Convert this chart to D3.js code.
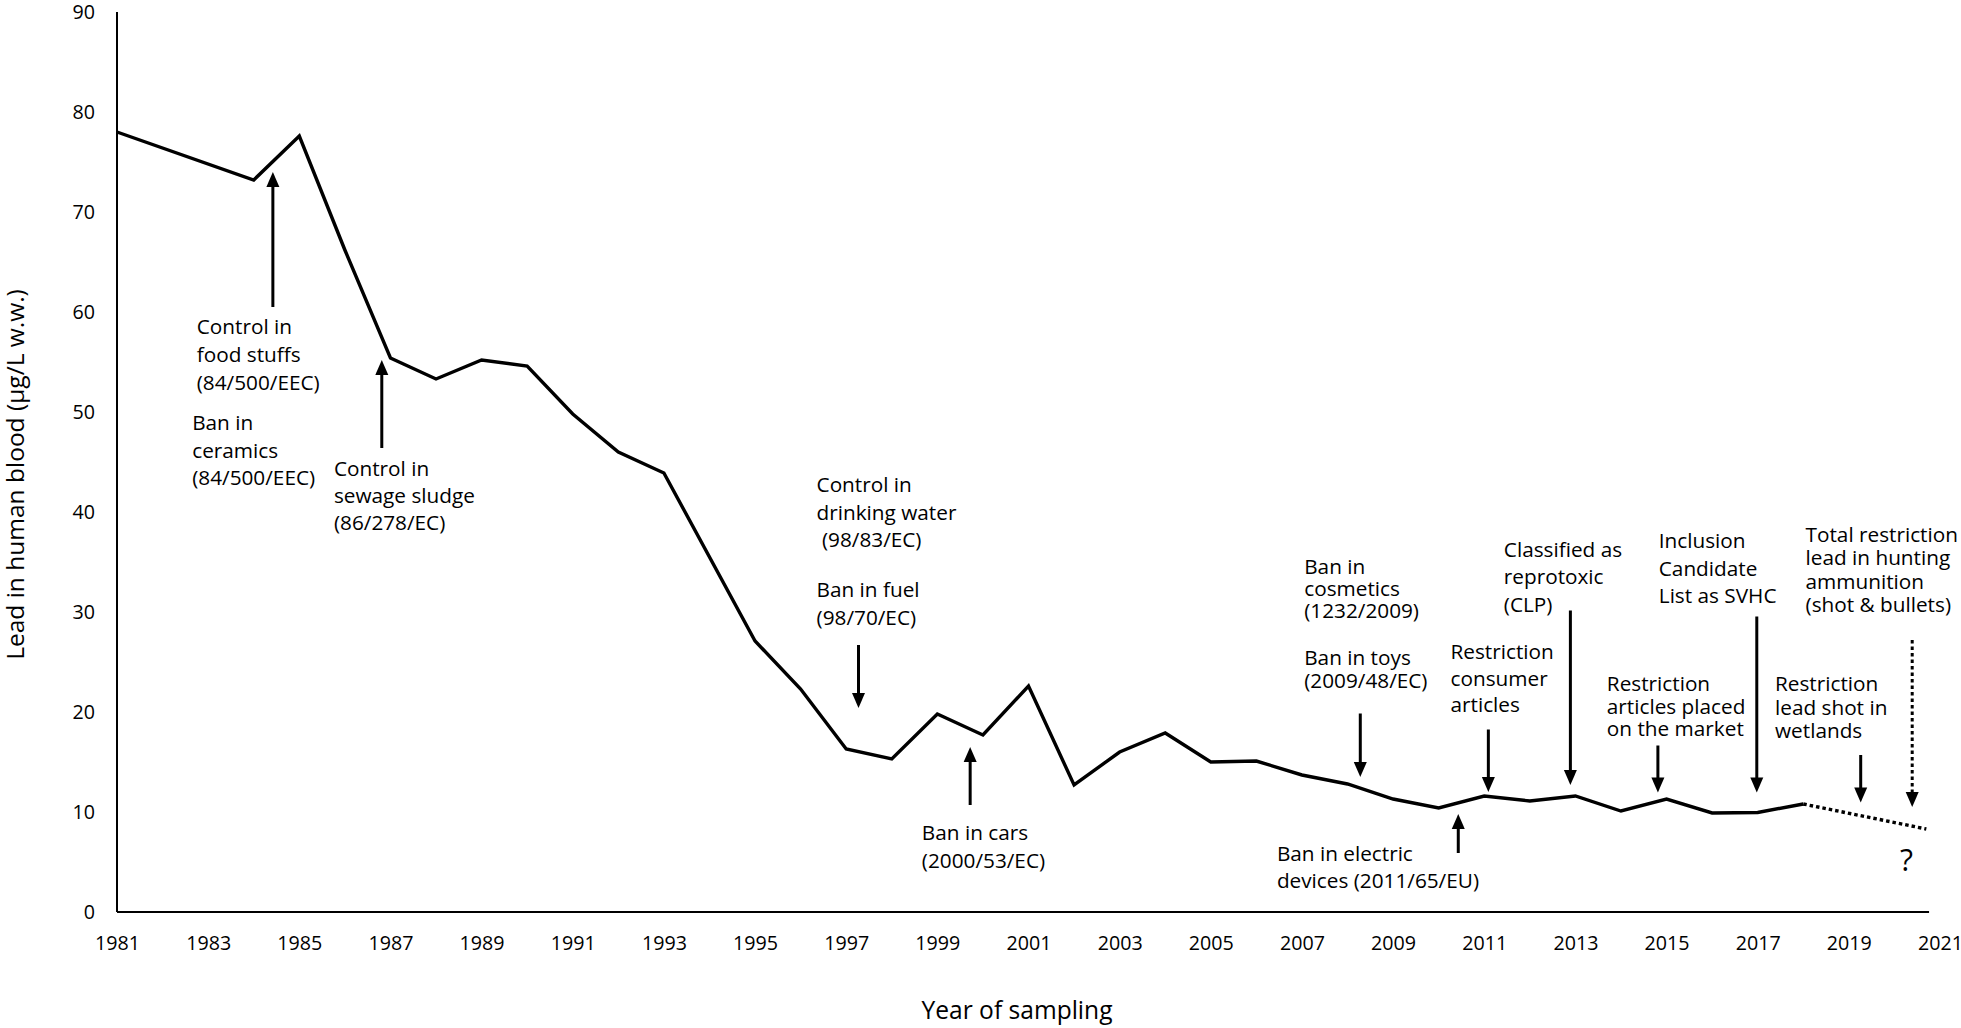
<!DOCTYPE html>
<html><head><meta charset="utf-8">
<script src="https://cdn.jsdelivr.net/npm/d3@7"></script>
<style>
html,body{margin:0;padding:0;background:#fff;}
svg{display:block;}
text{fill:#000;}
</style></head><body>
<svg id="chart" width="1961" height="1028"></svg>
<script>
// ---------- data ----------
const years  = [1981,1984,1985,1986,1987,1988,1989,1990,1991,1992,1993,1995,1996,1997,1998,1999,2000,2001,2002,2003,2004,2005,2006,2007,2008,2009,2010,2011,2012,2013,2014,2015,2016,2017,2018];
const values = [78.0,73.2,77.6,66.2,55.4,53.3,55.2,54.6,49.8,46.0,43.9,27.1,22.3,16.3,15.3,19.8,17.7,22.6,12.7,16.0,17.9,15.0,15.1,13.7,12.8,11.3,10.4,11.6,11.1,11.6,10.1,11.3,9.9,9.95,10.8];
const projYears  = [2018, 2020.7];
const projValues = [10.8, 8.3];
const xTickLabels = [1981,1983,1985,1987,1989,1991,1993,1995,1997,1999,2001,2003,2005,2007,2009,2011,2013,2015,2017,2019,2021];
const yTickLabels = [0,10,20,30,40,50,60,70,80,90];
const xTitle = "Year of sampling";
const yTitle = "Lead in human blood (µg/L w.w.)";

// annotations (anchored in data units: left edge year, first-line value)
const noteLines = [
  ["Control in","food stuffs","(84/500/EEC)"],
  ["Ban in","ceramics","(84/500/EEC)"],
  ["Control in","sewage sludge","(86/278/EC)"],
  ["Control in","drinking water"," (98/83/EC)"],
  ["Ban in fuel","(98/70/EC)"],
  ["Ban in cars","(2000/53/EC)"],
  ["Ban in","cosmetics","(1232/2009)"],
  ["Ban in toys","(2009/48/EC)"],
  ["Ban in electric","devices (2011/65/EU)"],
  ["Restriction","consumer","articles"],
  ["Classified as","reprotoxic","(CLP)"],
  ["Restriction","articles placed","on the market"],
  ["Inclusion","Candidate","List as SVHC"],
  ["Restriction","lead shot in","wetlands"],
  ["Total restriction","lead in hunting","ammunition","(shot & bullets)"],
  ["?"]
];
const noteYears  = [1982.75,1982.65,1985.76,1996.35,1996.35,1998.66,2007.05,2007.05,2006.45,2010.26,2011.43,2013.69,2014.83,2017.38,2018.05,2020.12];
const noteValues = [58.6,49.0,44.4,42.8,32.3,8.0,34.6,25.5,5.9,26.1,36.35,22.9,37.2,22.9,37.85,5.3];
const noteGap    = [28,27.5,27,27.5,27.7,28,22,22.7,27,26.7,27.5,22.5,27.5,23.5,23.5,0]; // px leading
const noteScale  = [1,1,1,1,1,1,1,1,1,1,1,1,1,1,1,1.45];

// arrows: x position (year), start value, tip value
const arrowYears  = [1984.42,1986.81,1997.27,1999.72,2008.28,2010.43,2011.09,2012.89,2014.81,2016.98,2019.26,2020.39];
const arrowFrom   = [60.5,46.4,26.7,10.7,19.85,5.9,18.25,30.15,16.65,29.55,15.7,27.2];
const arrowTo     = [74.0,55.2,20.4,16.5,13.5,9.8,12.0,12.7,11.95,11.95,10.95,10.5];
const arrowDotted = [false,false,false,false,false,false,false,false,false,false,false,true];

// ---------- drawing ----------
const FONT = '"Open Sans", sans-serif';
const svg = d3.select("#chart");
const x = d3.scaleLinear().domain([1981, 2021]).range([117, 1940]);
const y = d3.scaleLinear().domain([0, 90]).range([912, 12]);

function fitSize(str, target) {
  const t = svg.append("text").attr("font-size", 100).style("font-family", FONT).text(str);
  const w = t.node().getComputedTextLength();
  t.remove();
  return 100 * target / w;
}
const noteSize  = fitSize("(84/500/EEC)", 123);
const tickSize  = fitSize("1983", 45);
const titleSize = fitSize(xTitle, 191);
const yTitleSize = fitSize(yTitle, 371);

// axes lines
svg.append("line").attr("x1", x(1981)).attr("x2", x(1981)).attr("y1", y(0)).attr("y2", y(90))
  .attr("stroke", "#000").attr("stroke-width", 2);
svg.append("line").attr("x1", x(1981)).attr("x2", x(2020.76)).attr("y1", y(0)).attr("y2", y(0))
  .attr("stroke", "#000").attr("stroke-width", 2);

// y axis labels
const gy = svg.append("g").attr("transform", `translate(${x(1981) - 22},0)`)
  .call(d3.axisLeft(y).tickValues(yTickLabels).tickSize(0).tickPadding(0).tickFormat(d3.format("d")));
gy.select(".domain").remove();
gy.selectAll("text").attr("font-size", tickSize).style("font-family", FONT).attr("fill", "#000").attr("dy", "0.35em");

// x axis labels
const gx = svg.append("g").attr("transform", `translate(0,${y(0) + 24})`)
  .call(d3.axisBottom(x).tickValues(xTickLabels).tickSize(0).tickPadding(0).tickFormat(d3.format("d")));
gx.select(".domain").remove();
gx.selectAll("text").attr("font-size", tickSize).style("font-family", FONT).attr("fill", "#000").attr("dy", "0.71em");

// titles
svg.append("text").attr("x", 1017).attr("y", 1009).attr("text-anchor", "middle")
  .attr("dominant-baseline", "central").attr("font-size", titleSize).style("font-family", FONT).text(xTitle);
svg.append("text").attr("transform", `translate(14,${474.5}) rotate(-90)`).attr("text-anchor", "middle")
  .attr("dominant-baseline", "central").attr("font-size", yTitleSize).style("font-family", FONT).text(yTitle);

// data line
const line = d3.line().x(d => x(d[0])).y(d => y(d[1])).curve(d3.curveLinear);
svg.append("path").datum(years.map((yr, i) => [yr, values[i]]))
  .attr("d", line).attr("fill", "none").attr("stroke", "#000").attr("stroke-width", 3.4)
  .attr("stroke-linejoin", "miter");
svg.append("path").datum(projYears.map((yr, i) => [yr, projValues[i]]))
  .attr("d", line).attr("fill", "none").attr("stroke", "#000").attr("stroke-width", 3.4)
  .attr("stroke-dasharray", "3.5,3");

// arrows
const HEAD_L = 15, HEAD_W = 13;
arrowYears.forEach((yr, i) => {
  const ax = x(yr), y1 = y(arrowFrom[i]), y2 = y(arrowTo[i]);
  const dir = Math.sign(y2 - y1);
  svg.append("line").attr("x1", ax).attr("x2", ax).attr("y1", y1).attr("y2", y2 - dir * HEAD_L * 0.8)
    .attr("stroke", "#000").attr("stroke-width", 3)
    .attr("stroke-dasharray", arrowDotted[i] ? "3.5,3" : null);
  const p = d3.path();
  p.moveTo(ax, y2);
  p.lineTo(ax - HEAD_W / 2, y2 - dir * HEAD_L);
  p.lineTo(ax + HEAD_W / 2, y2 - dir * HEAD_L);
  p.closePath();
  svg.append("path").attr("d", p.toString()).attr("fill", "#000");
});

// annotation texts
noteLines.forEach((lines, i) => {
  const t = svg.append("text").attr("font-size", noteSize * noteScale[i]).style("font-family", FONT)
    .attr("xml:space", "preserve").style("white-space", "pre");
  lines.forEach((ln, j) => {
    t.append("tspan").attr("x", x(noteYears[i])).attr("y", y(noteValues[i]) + j * noteGap[i])
      .attr("dominant-baseline", "central").text(ln);
  });
});
</script>
</body></html>
